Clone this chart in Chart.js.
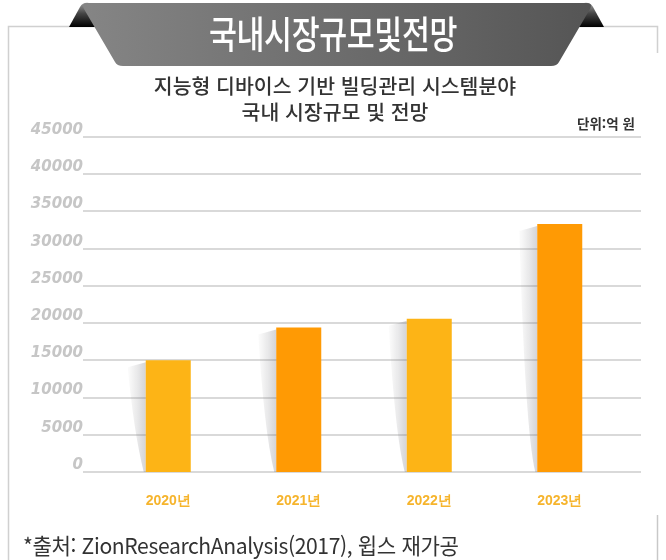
<!DOCTYPE html>
<html lang="ko">
<head>
<meta charset="UTF-8">
<title>국내 시장규모 및 전망</title>
<script src="https://cdn.jsdelivr.net/npm/chart.js@4.4.0/dist/chart.umd.min.js"></script>
<style>
    body { margin: 0; background: #fff; }
    #wrap { position: relative; width: 666px; height: 560px; overflow: hidden; font-family: "Noto Sans CJK KR", sans-serif; }
    #frame, #chart, .txt { position: absolute; }
    #frame { left: 0; top: 0; }
    #chart { left: 0; top: 0; }
    .banner-title { left: 0; width: 666px; top: 6px; text-align: center; color: #fff; font-size: 38px; font-weight: 500;
        line-height: 52px; transform: scaleX(0.8); letter-spacing: -0.5px; }
    .sub-title { left: 0; width: 670px; top: 72px; text-align: center; color: #333; font-size: 20.5px; font-weight: 500; line-height: 26px; }
    .unit { left: 577px; top: 113px; color: #333; font-size: 13.5px; font-weight: 700; }
    .source { left: 23px; top: 528px; color: #333; font-size: 22px; font-weight: 400; letter-spacing: -0.4px;
        transform: scaleX(0.96); transform-origin: left center; white-space: nowrap; }
</style>
</head>
<body>
<div id="wrap">
    <svg id="frame" width="666" height="560">
        <defs>
            <linearGradient id="face" x1="0" y1="0" x2="1" y2="0">
                <stop offset="0" stop-color="#858585"/>
                <stop offset="1" stop-color="#555"/>
            </linearGradient>
            <linearGradient id="fold" x1="0" y1="0" x2="0" y2="1">
                <stop offset="0" stop-color="#9a9a9a"/>
                <stop offset="0.45" stop-color="#444"/>
                <stop offset="1" stop-color="#000"/>
            </linearGradient>
        </defs>
        <!-- box border -->
        <path d="M8.5 560 L8.5 26.5 L657.5 26.5 L657.5 53" fill="none" stroke="#d0d0d0" stroke-width="1.5"/>
        <path d="M657.5 515 L657.5 560" fill="none" stroke="#c8c8c8" stroke-width="1.5"/>
        <!-- ribbon -->
        <path d="M69 27 L80 7 Q83 2 89 3 L97 27 Z" fill="url(#fold)"/>
        <path d="M604 27 L593 7 Q590 2 584 3 L576 27 Z" fill="url(#fold)"/>
        <path d="M87 3 L587 3 Q593 3 590 9 L559 62 Q557 66 551 66 L123 66 Q117 66 115 62 L84 9 Q81 3 87 3 Z" fill="url(#face)"/>
    </svg>
    <canvas id="chart" width="666" height="560"></canvas>
    <div class="txt banner-title">국내시장규모및전망</div>
    <div class="txt sub-title">지능형 디바이스 기반 빌딩관리 시스템분야<br>국내 시장규모 및 전망</div>
    <div class="txt unit">단위:억 원</div>
    <div class="txt source">*출처: ZionResearchAnalysis(2017), 윕스 재가공</div>
</div>
<script>
    // data (억 원)
    const years = ['2020년', '2021년', '2022년', '2023년'];
    const marketSize = [15000, 19400, 20600, 33300];
    const barColors = ['#FDB416', '#FF9A04', '#FDB416', '#FF9A04'];
    const yMax = 45000;
    const yStep = 5000;

    // long grey gridlines, running past the plot area on both sides
    const gridPlugin = {
        id: 'longGrid',
        beforeDatasetsDraw(chart) {
            const ctx = chart.ctx;
            const y = chart.scales.y;
            ctx.save();
            ctx.strokeStyle = '#d9d9d9';
            ctx.lineWidth = 2;
            y.ticks.forEach(t => {
                const py = Math.round(y.getPixelForValue(t.value));
                ctx.beginPath();
                ctx.moveTo(83, py);
                ctx.lineTo(641, py);
                ctx.stroke();
            });
            ctx.restore();
        }
    };

    // soft curled shadow on the left side of every bar
    const shadowPlugin = {
        id: 'barShadow',
        beforeDatasetsDraw(chart) {
            const ctx = chart.ctx;
            const meta = chart.getDatasetMeta(0);
            ctx.save();
            meta.data.forEach(bar => {
                const left = bar.x - bar.width / 2;
                const top = bar.y;
                const base = bar.base;
                const g = ctx.createLinearGradient(left - 20, 0, left, 0);
                g.addColorStop(0, 'rgba(150,150,150,0)');
                g.addColorStop(1, 'rgba(110,110,120,0.3)');
                ctx.fillStyle = g;
                ctx.beginPath();
                ctx.moveTo(left, top + 2);
                ctx.lineTo(left - 18, top + 7);
                ctx.quadraticCurveTo(left - 12, base - 40, left - 2, base);
                ctx.lineTo(left, base);
                ctx.closePath();
                ctx.fill();
            });
            ctx.restore();
        }
    };

    new Chart(document.getElementById('chart'), {
        type: 'bar',
        data: {
            labels: years,
            datasets: [{
                data: marketSize,
                backgroundColor: barColors,
                borderWidth: 0,
                barPercentage: 0.345,
                categoryPercentage: 1
            }]
        },
        options: {
            responsive: false,
            animation: false,
            layout: { padding: { top: 137, right: 41, left: 0, bottom: 0 } },
            plugins: {
                legend: { display: false },
                tooltip: { enabled: false }
            },
            scales: {
                x: {
                    grid: { display: false, drawTicks: false },
                    border: { display: false },
                    ticks: {
                        padding: 21,
                        color: '#F6B42C',
                        font: { family: 'Liberation Sans', size: 14, weight: 'bold' }
                    },
                    afterFit(scale) { scale.height = 88; }
                },
                y: {
                    min: 0,
                    max: yMax,
                    grid: { display: false, drawTicks: false },
                    border: { display: false },
                    ticks: {
                        stepSize: yStep,
                        padding: 20,
                        labelOffset: -7,
                        color: '#c6c6c6',
                        font: { family: 'DejaVu Sans', size: 15, weight: 'bold', style: 'italic' },
                        callback: v => String(v)
                    },
                    afterFit(scale) { scale.width = 103; }
                }
            }
        },
        plugins: [gridPlugin, shadowPlugin]
    });
</script>
</body>
</html>
